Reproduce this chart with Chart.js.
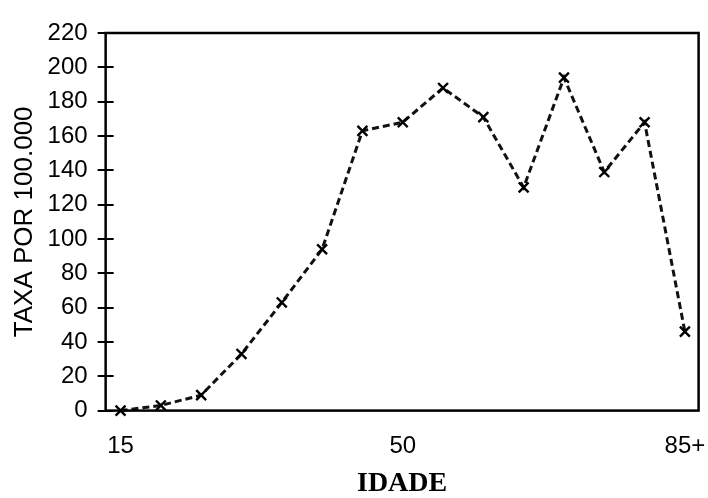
<!DOCTYPE html>
<html>
<head>
<meta charset="utf-8">
<script src="https://cdn.jsdelivr.net/npm/chart.js@4/dist/chart.umd.min.js"></script>
<style>
    html, body { margin: 0; padding: 0; background: #fff; }
    #wrap { position: relative; width: 708px; height: 498px; }
</style>
</head>
<body>
<div id="wrap"><canvas id="taxa-chart"></canvas></div>
<script>
// Data
const ages = [15, 20, 25, 30, 35, 40, 45, 50, 55, 60, 65, 70, 75, 80, 85];
const rates = [0, 3, 9, 33, 63, 94, 163, 168, 188, 171, 130, 194, 139, 168, 46];
const xTickLabels = { 15: "15", 50: "50", 85: "85+" };
const yTicks = [0, 20, 40, 60, 80, 100, 120, 140, 160, 180, 200, 220];

// Ticks crossing the left axis + box around plot
const frameAndTicks = {
    id: "frameAndTicks",
    afterDraw(chart) {
        const { ctx, chartArea: a, scales } = chart;
        ctx.save();
        ctx.strokeStyle = "#000";
        ctx.lineWidth = 2;
        yTicks.forEach((v) => {
            const y = Math.round(scales.y.getPixelForValue(v));
            ctx.beginPath();
            ctx.moveTo(a.left - 8, y);
            ctx.lineTo(a.left + 8, y);
            ctx.stroke();
        });
        ctx.lineWidth = 2.5;
        ctx.strokeRect(a.left, a.top, a.right - a.left, a.bottom - a.top);
        ctx.restore();
    },
};

const tickFont = { family: "'Liberation Sans', Arial, sans-serif", size: 24, lineHeight: 1.1 };

new Chart(document.getElementById("taxa-chart").getContext("2d"), {
    type: "line",
    data: {
        datasets: [{
            data: ages.map((a, i) => ({ x: a, y: rates[i] })),
            borderColor: "#111",
            borderWidth: 3,
            borderDash: [7, 4],
            pointStyle: "crossRot",
            pointRadius: 7,
            pointBorderWidth: 2.4,
            pointBorderColor: "#000",
            fill: false,
            tension: 0,
            clip: false,
        }],
    },
    options: {
        responsive: true,
        maintainAspectRatio: false,
        animation: false,
        layout: { padding: { top: 33, right: 0, bottom: 0, left: 4 } },
        plugins: {
            legend: { display: false },
            tooltip: { enabled: false },
        },
        scales: {
            x: {
                type: "linear",
                min: 13.15,
                max: 86.7,
                afterBuildTicks: (scale) => {
                    scale.ticks = [15, 50, 85].map((v) => ({ value: v }));
                },
                ticks: {
                    color: "#000",
                    font: tickFont,
                    padding: 0,
                    autoSkip: false,
                    maxRotation: 0,
                    callback: (v) => xTickLabels[v] || "",
                },
                // transparent ticks only make the gap below the axis
                grid: { display: true, drawOnChartArea: false, drawTicks: true, tickLength: 23, tickColor: "rgba(0,0,0,0)", color: "rgba(0,0,0,0)" },
                border: { display: false },
                title: {
                    display: true,
                    text: "IDADE",
                    color: "#000",
                    font: { family: "'Liberation Serif', 'Times New Roman', serif", size: 28, weight: "bold", lineHeight: 1.0 },
                    padding: { top: 10, bottom: 0 },
                },
            },
            y: {
                min: 0,
                max: 220,
                afterBuildTicks: (scale) => {
                    scale.ticks = yTicks.map((v) => ({ value: v }));
                },
                ticks: {
                    color: "#000",
                    font: tickFont,
                    padding: 0,
                },
                grid: { display: true, drawOnChartArea: false, drawTicks: true, tickLength: 18, tickColor: "rgba(0,0,0,0)", color: "rgba(0,0,0,0)" },
                border: { display: false },
                title: {
                    display: true,
                    text: "TAXA POR 100.000",
                    color: "#000",
                    font: { family: "'Liberation Sans', Arial, sans-serif", size: 26, lineHeight: 1.1 },
                    padding: { top: 7, bottom: 8 },
                },
            },
        },
    },
    plugins: [frameAndTicks],
});
</script>
</body>
</html>
